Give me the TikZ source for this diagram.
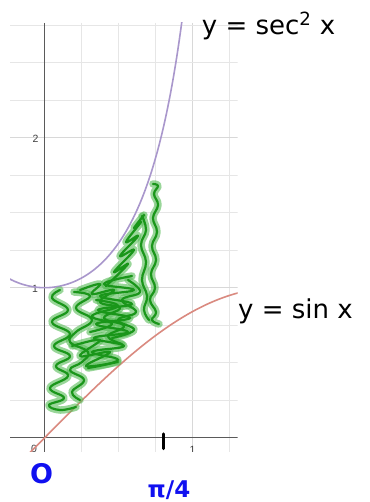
\documentclass[tikz,border=0pt]{standalone}
\usepackage{fontspec}
\newfontfamily\eqfont[WordSpace=1.5]{DejaVu Sans}
\newfontfamily\bluefont{DejaVu Sans}
\newfontfamily\tickfont{Liberation Sans}
\definecolor{gridc}{HTML}{E6E6E6}
\definecolor{gridmaj}{HTML}{D8D8D8}
\definecolor{axisc}{HTML}{5A5A5A}
\definecolor{secc}{HTML}{A997CC}
\definecolor{sinc}{HTML}{DA8A80}
\definecolor{inkc}{HTML}{1A961A}
\definecolor{haloc}{HTML}{56BC56}
\definecolor{bluec}{HTML}{1010F0}
\tikzset{
  gridline/.style={draw=gridc, line width=0.9},
  gridmajor/.style={draw=gridmaj, line width=0.9},
  axisline/.style={draw=axisc, line width=1},
  seccurve/.style={draw=secc, line width=1.6},
  sincurve/.style={draw=sinc, line width=1.6},
  halo/.style={draw=haloc, opacity=0.6, line width=7.5, line cap=round, line join=round, smooth, tension=0.75},
  ink/.style={draw=inkc, line width=2.2, line cap=round, line join=round, smooth, tension=0.75},
  ticklbl/.style={font=\tickfont\fontsize{10.5}{12}\selectfont, text=black!75, inner sep=0},
  eqlbl/.style={font=\eqfont\fontsize{26}{30}\selectfont, text=black, inner sep=0},
  bluelbl/.style={font=\bluefont\bfseries, text=bluec, inner sep=0},
}
\begin{document}
\begin{tikzpicture}[x=1pt,y=-1pt]
\useasboundingbox (0,0) rectangle (369,502);
\fill[white] (0,0) rectangle (369,502);
\begin{scope}
\clip (10,23) rectangle (237.7,451.7);
\foreach \i in {-1,1,2,3,5,6} \draw[gridline] ({44.7+37*\i},23) -- ({44.7+37*\i},451.7);
\draw[gridmajor] (192.7,23) -- (192.7,451.7);
\foreach \j in {-1,1,2,3,5,6,7,9,10,11} \draw[gridline] (10,{437.7-37.5*\j}) -- (237.7,{437.7-37.5*\j});
\draw[gridmajor] (10,287.7) -- (237.7,287.7);
\draw[gridmajor] (10,137.7) -- (237.7,137.7);
\draw[axisline] (10,437.7) -- (237.7,437.7);
\draw[axisline] (44.7,23) -- (44.7,451.7);
\node[ticklbl] (t2) at (35.5,139) {2};
\node[ticklbl] (t1) at (35,288.5) {1};
\node[ticklbl] (t0) at (34,448.5) {0};
\node[ticklbl] (tx1) at (192.5,449.5) {1};
\draw[seccurve] plot[domain=-0.24:0.93, samples=120] ({44.7+148*\x},{437.7-150/(cos(deg(\x))^2)});
\draw[sincurve] plot[domain=-0.12:1.31, samples=120] ({44.7+148*\x},{437.7-150*sin(deg(\x))});
\end{scope}
% scribble
\foreach \s in {halo,ink}{
% left chain, two crossing strands
\draw[\s] plot coordinates {(60,290) (52,298) (68,310) (52,322) (70,334) (54,346) (70,356) (56,366) (68,376) (50,388) (64,398) (49,405) (60,410) (76,407)};
\draw[\s] plot coordinates {(74,292) (90,296) (76,308) (92,320) (76,332) (70,342) (88,352) (82,362) (70,370) (84,380) (72,392) (80,400)};
% horizontal lozenges joining chain and middle
\draw[\s] plot coordinates {(72,346) (100,340) (80,356) (110,352) (86,366) (118,362)};
\draw[\s] plot coordinates {(90,332) (112,324) (92,316) (118,306) (96,300)};
% middle horizontal zigzag
\draw[\s] plot coordinates {(88,368) (118,360) (92,352) (124,346) (94,338) (128,332) (96,324) (130,318) (98,310) (132,304) (100,296) (134,290) (104,284) (132,276)};
% second middle strand
\draw[\s] plot coordinates {(80,290) (100,284) (92,294) (114,290) (100,302) (120,308) (104,318) (124,326) (108,336) (122,344)};
% column near right
\draw[\s] plot coordinates {(128,280) (140,292) (122,300) (136,312) (118,320) (134,330) (112,338)};
% stepped strand along the upper curve
\draw[\s] plot coordinates {(106,286) (128,264) (114,272) (134,250) (120,256) (138,236) (126,242) (141,222) (134,228) (144,215)};
% tall right strand
\draw[\s] plot coordinates {(153,184) (158,186) (154,194) (158,205) (153,218) (157,232) (152,246) (156,260) (151,274) (155,288) (150,300) (156,312) (152,320) (159,324)};
% second right strand
\draw[\s] plot coordinates {(142,216) (146,230) (141,245) (146,262) (142,280) (147,296) (144,310) (149,320)};
}
% labels
\node[eqlbl, anchor=base west] (seclbl) at (201.7,35) {y = sec\textsuperscript{2} x};
\node[eqlbl, anchor=base west] (sinlbl) at (238,318) {y = sin x};
\node[bluelbl, font=\bluefont\bfseries\fontsize{27}{30}\selectfont] (zero) at (41.7,473.3) {O};
\node[bluelbl, font=\bluefont\bfseries\fontsize{23}{26}\selectfont] (pi4) at (169,490.5) {π/4};
\draw[line width=3.5, line cap=round] (163.3,434) -- (163.3,448.5);
\end{tikzpicture}
\end{document}
